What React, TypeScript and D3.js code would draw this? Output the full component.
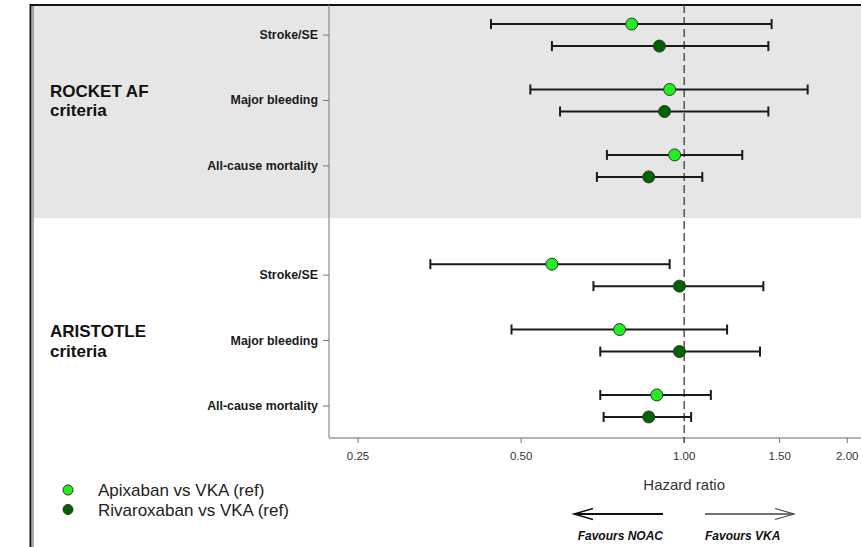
import React, { useEffect, useRef } from 'react';
import * as d3 from 'd3';

// outcomes shown inside each trial-criteria block
const outcomes = ['Stroke/SE', 'Major bleeding', 'All-cause mortality'];
const groups = [
  ['ROCKET AF', 'criteria'],
  ['ARISTOTLE', 'criteria'],
];

// hazard ratios with 95% CI, order: ROCKET (3 outcomes) then ARISTOTLE (3 outcomes)
const apixabanHR = [0.80, 0.94, 0.96, 0.57, 0.76, 0.89];
const apixabanLo = [0.44, 0.52, 0.72, 0.34, 0.48, 0.70];
const apixabanHi = [1.45, 1.69, 1.28, 0.94, 1.20, 1.12];
const rivaroxabanHR = [0.90, 0.92, 0.86, 0.98, 0.98, 0.86];
const rivaroxabanLo = [0.57, 0.59, 0.69, 0.68, 0.70, 0.71];
const rivaroxabanHi = [1.43, 1.43, 1.08, 1.40, 1.38, 1.03];

const xTicks = [0.25, 0.5, 1, 1.5, 2];
const seriesNames = ['Apixaban vs VKA (ref)', 'Rivaroxaban vs VKA (ref)'];
const seriesColors = ['#22ee22', '#006400'];

const FONT = '"Liberation Sans", Arial, sans-serif';

const App = () => {
  const ref = useRef<SVGSVGElement>(null);

  useEffect(() => {
    const width = 861;
    const height = 547;
    const left = 329, right = 861, top = 5, bottom = 438;

    const svg = d3.select(ref.current);
    svg.selectAll('*').remove();

    const x = d3.scaleLog().base(2).domain([0.221, 2.12]).range([left, right]);
    // slot positions: 3 rows per group plus a gap between groups
    const slot = (g: number, i: number) => g * 3.67 + i;
    const y = d3.scaleLinear().domain([-0.46, 6.16]).range([top, bottom]);

    // grey band behind ROCKET AF rows
    svg.append('rect')
      .attr('x', 33).attr('y', top + 1)
      .attr('width', width - 33).attr('height', y(2.8) - top - 1)
      .attr('fill', '#e6e6e6');

    // outer frame
    svg.append('line').attr('x1', 30.5).attr('x2', 30.5).attr('y1', 4).attr('y2', height)
      .attr('stroke', '#111').attr('stroke-width', 2);
    svg.append('line').attr('x1', 33).attr('x2', 33).attr('y1', 5).attr('y2', height)
      .attr('stroke', '#555').attr('stroke-width', 1);
    svg.append('line').attr('x1', 30).attr('x2', width).attr('y1', 5).attr('y2', 5)
      .attr('stroke', '#111').attr('stroke-width', 2);

    // axes
    svg.append('line').attr('x1', left).attr('x2', left).attr('y1', top).attr('y2', bottom)
      .attr('stroke', '#8a8a8a').attr('stroke-width', 1.2);
    svg.append('line').attr('x1', left).attr('x2', right).attr('y1', bottom).attr('y2', bottom)
      .attr('stroke', '#9a9a9a').attr('stroke-width', 1.5);

    const xt = svg.append('g');
    xTicks.forEach(t => {
      xt.append('line').attr('x1', x(t)).attr('x2', x(t)).attr('y1', bottom).attr('y2', bottom + 5)
        .attr('stroke', '#777');
      xt.append('text').attr('x', x(t)).attr('y', 460)
        .attr('text-anchor', 'middle').attr('font-family', FONT).attr('font-size', 11.5)
        .attr('fill', '#333').text(d3.format('.2f')(t));
    });

    svg.append('text').attr('x', x(1)).attr('y', 490).attr('text-anchor', 'middle')
      .attr('font-family', FONT).attr('font-size', 15).attr('fill', '#333').text('Hazard ratio');

    // reference line at HR = 1
    svg.append('line').attr('x1', x(1)).attr('x2', x(1)).attr('y1', top).attr('y2', bottom + 5)
      .attr('stroke', '#555').attr('stroke-width', 1.5).attr('stroke-dasharray', '8,4');

    // row labels and y ticks
    groups.forEach((lines, g) => {
      outcomes.forEach((o, i) => {
        const yy = y(slot(g, i));
        svg.append('line').attr('x1', left - 6).attr('x2', left).attr('y1', yy).attr('y2', yy)
          .attr('stroke', '#777');
        svg.append('text').attr('x', 318).attr('y', yy + 4).attr('text-anchor', 'end')
          .attr('font-family', FONT).attr('font-size', 12.4).attr('font-weight', 'bold')
          .attr('fill', '#1a1a1a').text(o);
      });
      const mid = y(slot(g, 1));
      lines.forEach((l, k) => {
        svg.append('text').attr('x', 50).attr('y', mid - 3.5 + k * 19.5)
          .attr('font-family', FONT).attr('font-size', 17).attr('font-weight', 'bold')
          .attr('fill', '#111').text(l);
      });
    });

    // error bars and points
    const series = [
      { hr: apixabanHR, lo: apixabanLo, hi: apixabanHi, off: -11 },
      { hr: rivaroxabanHR, lo: rivaroxabanLo, hi: rivaroxabanHi, off: 11 },
    ];
    series.forEach((s, si) => {
      const gg = svg.append('g');
      s.hr.forEach((v, k) => {
        const g = Math.floor(k / 3);
        const yy = y(slot(g, k % 3)) + s.off;
        gg.append('line').attr('x1', x(s.lo[k])).attr('x2', x(s.hi[k])).attr('y1', yy).attr('y2', yy)
          .attr('stroke', '#1a1a1a').attr('stroke-width', 2);
        [s.lo[k], s.hi[k]].forEach(c => {
          gg.append('line').attr('x1', x(c)).attr('x2', x(c)).attr('y1', yy - 5).attr('y2', yy + 5)
            .attr('stroke', '#1a1a1a').attr('stroke-width', 2);
        });
        gg.append('circle').attr('cx', x(v)).attr('cy', yy).attr('r', 6)
          .attr('fill', seriesColors[si]).attr('stroke', '#333').attr('stroke-width', 1);
      });
    });

    // legend
    seriesNames.forEach((n, i) => {
      const ly = 490 + i * 19.5;
      svg.append('circle').attr('cx', 68).attr('cy', ly).attr('r', 5)
        .attr('fill', seriesColors[i]).attr('stroke', '#333').attr('stroke-width', 1);
      svg.append('text').attr('x', 98).attr('y', ly + 6)
        .attr('font-family', FONT).attr('font-size', 17).attr('fill', '#222').text(n);
    });

    // favours arrows
    const ay = 514;
    const arrow = (x1: number, x2: number, col: string, w: number) => {
      const dir = Math.sign(x2 - x1);
      svg.append('line').attr('x1', x1).attr('x2', x2).attr('y1', ay).attr('y2', ay)
        .attr('stroke', col).attr('stroke-width', w);
      svg.append('path')
        .attr('d', `M${x2 - dir * 19},${ay - 5.5}L${x2},${ay}L${x2 - dir * 19},${ay + 5.5}`)
        .attr('fill', 'none').attr('stroke', col).attr('stroke-width', w * 0.75);
    };
    arrow(663, 574, '#111', 2);
    arrow(705, 794, '#444', 1.5);

    svg.append('text').attr('x', 663).attr('y', 540).attr('text-anchor', 'end')
      .attr('font-family', FONT).attr('font-size', 12).attr('font-weight', 'bold')
      .attr('font-style', 'italic').attr('fill', '#111').text('Favours NOAC');
    svg.append('text').attr('x', 705).attr('y', 540)
      .attr('font-family', FONT).attr('font-size', 12).attr('font-weight', 'bold')
      .attr('font-style', 'italic').attr('fill', '#111').text('Favours VKA');
  }, []);

  return (
    <svg ref={ref} width={861} height={547}
      style={{ position: 'absolute', left: 0, top: 0, background: '#fff' }} />
  );
};

export default App;
